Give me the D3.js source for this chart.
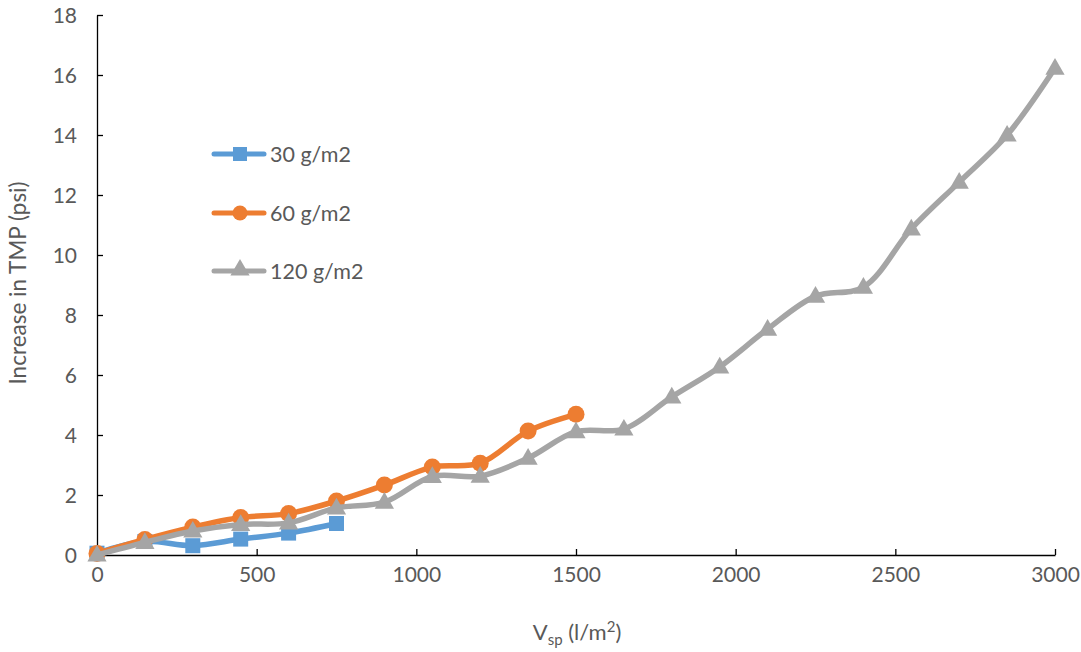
<!DOCTYPE html>
<html><head><meta charset="utf-8">
<script src="https://cdn.jsdelivr.net/npm/d3@7"></script>
<style>body{margin:0;background:#fff}svg{display:block}text{font-family:Lato,"Open Sans",sans-serif;fill:#595959}</style>
</head><body><svg id="c" width="1081" height="652"></svg>
<script>
const xValues30 = [0,150,300,450,600,750];
const values30 = [0.06,0.45,0.31,0.53,0.73,1.05];
const xValues60 = [0,150,300,450,600,750,900,1050,1200,1350,1500];
const values60 = [0.05,0.52,0.93,1.25,1.38,1.8,2.33,2.93,3.06,4.13,4.69];
const xValues120 = [0,150,300,450,600,750,900,1050,1200,1350,1500,1650,1800,1950,2100,2250,2400,2550,2700,2850,3000];
const values120 = [0,0.42,0.8,1.02,1.07,1.57,1.76,2.62,2.63,3.23,4.11,4.2,5.27,6.27,7.53,8.63,8.93,10.87,12.43,14.0,16.23];
const seriesNames = ["30 g/m2","60 g/m2","120 g/m2"];
const xTicks = [0,500,1000,1500,2000,2500,3000];
const yTicks = [0,2,4,6,8,10,12,14,16,18];

const svg = d3.select("#c");
const x = d3.scaleLinear().domain([0,3000]).range([97,1055]);
const y = d3.scaleLinear().domain([0,18]).range([555,15]);

// axes
const xa = svg.append("g").attr("transform","translate(0,555)")
  .call(d3.axisBottom(x).tickValues(xTicks).tickFormat(d3.format("d")).tickSize(-6).tickPadding(12).tickSizeOuter(0));
const ya = svg.append("g").attr("transform","translate(97,0)")
  .call(d3.axisLeft(y).tickValues(yTicks).tickFormat(d3.format("d")).tickSize(-6).tickPadding(20).tickSizeOuter(0));
[xa,ya].forEach(a=>{
  a.selectAll("path,line").attr("stroke","#000").attr("stroke-width",1.3);
  a.selectAll("text").attr("font-size",21).attr("fill","#595959").style("font-family","Lato,'Open Sans',sans-serif");
});
ya.selectAll("text").attr("dy","0.35em");

const colors = ["#5B9BD5","#ED7D31","#A5A5A5"];
const data = [
  xValues30.map((v,i)=>[v,values30[i]]),
  xValues60.map((v,i)=>[v,values60[i]]),
  xValues120.map((v,i)=>[v,values120[i]])
];
const line = d3.line().x(d=>x(d[0])).y(d=>y(d[1])).curve(d3.curveCatmullRom.alpha(0.5));
const tri = d3.symbol().type(d3.symbolTriangle).size(160);
function marker(g, k, cx, cy){
  if(k===0) g.append("rect").attr("x",cx-7.5).attr("y",cy-7.5).attr("width",15).attr("height",15).attr("fill",colors[0]);
  else if(k===1) g.append("circle").attr("cx",cx).attr("cy",cy).attr("r",8.5).attr("fill",colors[1]);
  else g.append("path").attr("d",tri).attr("transform",`translate(${cx},${cy+1})`).attr("fill",colors[2]);
}
data.forEach((d,k)=>{
  const g = svg.append("g");
  g.append("path").attr("d",line(d)).attr("fill","none").attr("stroke",colors[k]).attr("stroke-width",5.5).attr("stroke-linecap","round");
  d.forEach(p=>marker(g,k,x(p[0]),y(p[1])));
});

// legend
const ly = [154,213,271];
seriesNames.forEach((n,k)=>{
  const g = svg.append("g");
  g.append("line").attr("x1",214).attr("x2",264).attr("y1",ly[k]).attr("y2",ly[k]).attr("stroke",colors[k]).attr("stroke-width",5).attr("stroke-linecap","round");
  if(k===0) g.append("rect").attr("x",233).attr("y",ly[k]-7).attr("width",14).attr("height",14).attr("fill",colors[0]);
  else if(k===1) g.append("circle").attr("cx",240).attr("cy",ly[k]).attr("r",7.5).attr("fill",colors[1]);
  else g.append("path").attr("d",tri).attr("transform",`translate(240,${ly[k]-1})`).attr("fill",colors[2]);
  g.append("text").attr("x",270).attr("y",ly[k]).attr("dy","0.35em").attr("font-size",21.5).text(n);
});

// axis titles
svg.append("text").attr("transform","translate(26,283) rotate(-90)").attr("text-anchor","middle").attr("font-size",22.5).text("Increase in TMP (psi)");
const xt = svg.append("text").attr("x",577).attr("y",640).attr("text-anchor","middle").attr("font-size",22);
xt.append("tspan").text("V");
xt.append("tspan").attr("font-size",15).attr("dy",5).text("sp");
xt.append("tspan").attr("dy",-5).text(" (l/m");
xt.append("tspan").attr("font-size",15).attr("dy",-8).text("2");
xt.append("tspan").attr("dy",8).text(")");
</script></body></html>
